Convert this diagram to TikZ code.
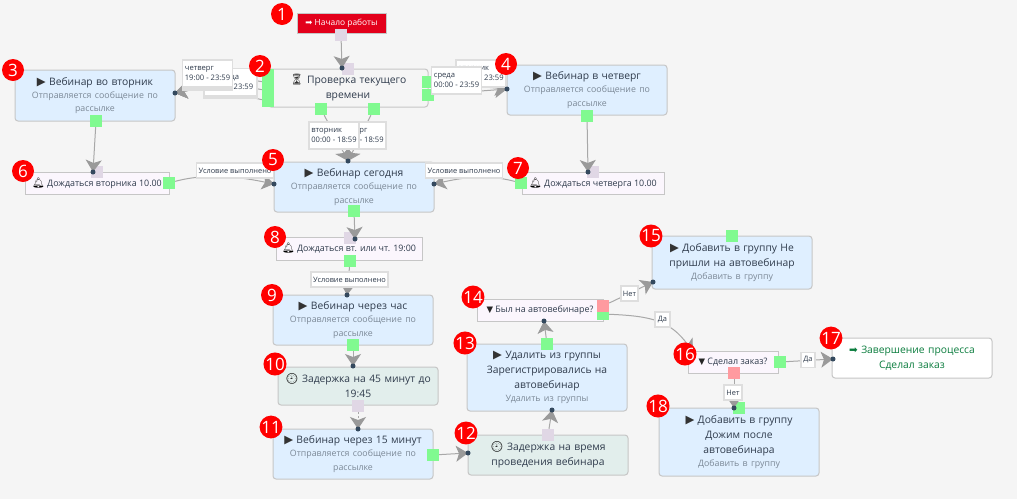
\documentclass[tikz,border=0pt]{standalone}
\usepackage{fontspec}
\setmainfont{Open Sans}
\newfontfamily\symfont{DejaVu Sans}
\newfontfamily\emofont{Noto Emoji}
\usetikzlibrary{arrows.meta, shadows}
\definecolor{bgcol}{HTML}{F5F5F5}
\definecolor{edgecol}{HTML}{C6C6C6}
\definecolor{webcol}{HTML}{DFEFFF}
\definecolor{waitcol}{HTML}{FBF6FD}
\definecolor{delaycol}{HTML}{E2EEEC}
\definecolor{startcol}{HTML}{E3001B}
\definecolor{portok}{HTML}{80FA90}
\definecolor{portno}{HTML}{FF9A9F}
\definecolor{portin}{HTML}{E0D7E5}
\definecolor{tipcol}{HTML}{9A9A9A}
\definecolor{dotcol}{HTML}{34495E}
\definecolor{inkcol}{HTML}{2F3B4C}
\definecolor{subcol}{HTML}{7B8896}
\definecolor{endcol}{HTML}{0B7D3E}
\newcommand{\ttlfont}{\fontsize{10.3}{15}\selectfont}
\newcommand{\subfont}{\fontsize{8.8}{13.3}\selectfont\color{subcol}}
\newcommand{\icoplay}{{\symfont\fontsize{11.5}{15}\selectfont\color{black!80}\char"25B6}}
\newcommand{\icosand}{{\emofont\fontsize{11}{15}\selectfont\color{black!80}\char"23F3}}
\newcommand{\icobell}{{\emofont\fontsize{10}{12}\selectfont\color{black}\char"1F514}}
\newcommand{\icoclock}{{\emofont\fontsize{10.5}{12}\selectfont\color{black}\char"1F558}}
\newcommand{\icofunnel}{{\symfont\fontsize{8.5}{12}\selectfont\color{black!85}\char"25BC}}
\newcommand{\icoenter}{{\symfont\char"27A1}}
\newcommand{\wtext}[2]{{\ttlfont #1\par}{\subfont #2\par}}
\tikzset{
    flowbox/.style={draw=edgecol, line width=1pt, rounded corners=3pt, minimum width=160pt, text width=154pt, inner sep=2pt, align=center, text=inkcol},
    webbox/.style={flowbox, fill=webcol},
    delaybox/.style={flowbox, fill=delaycol, font=\ttlfont},
    waitbox/.style={draw=edgecol, line width=1pt, fill=waitcol, sharp corners, minimum height=22pt, inner sep=1pt, text=inkcol, font=\fontsize{8.9}{12}\selectfont},
    portbox/.style={minimum size=12pt, inner sep=0pt},
    okport/.style={portbox, fill=portok},
    noport/.style={portbox, fill=portno},
    inport/.style={portbox, fill=portin},
    conn/.style={draw=edgecol!85!black, line width=1pt, -{Stealth[length=12pt, width=16pt, inset=3pt, color=tipcol]}},
    timelab/.style={draw=black!13, line width=1.2pt, fill=white, minimum width=50pt, minimum height=27pt, inner sep=2pt, align=left, text=inkcol, font=\fontsize{7.6}{10}\selectfont},
    condlab/.style={draw=black!13, line width=1.2pt, fill=white, inner sep=2pt, minimum height=15pt, text=inkcol, font=\fontsize{7.4}{9}\selectfont},
    badge/.style={circle, fill=red, text=white, minimum size=22pt, inner sep=0pt, font=\fontsize{17}{17}\selectfont}
}
\begin{document}
\begin{tikzpicture}[x=1pt, y=-1pt]
    % Page
    \fill[bgcol] (0,0) rectangle (1017,499);
    \useasboundingbox (0,0) rectangle (1017,499);

    % Steps
    \node[draw=edgecol, line width=1pt, fill=startcol, minimum width=89pt, minimum height=20pt, inner sep=0pt, text=white, font=\fontsize{8.4}{10}\selectfont] (start) at (341.5,23) {\icoenter\ Начало работы};
    \node[flowbox, fill=bgcol, minimum height=38pt, font=\ttlfont] (check) at (348,88) {\icosand\ Проверка текущего\\времени};
    \node[webbox, minimum height=51pt] (tue) at (95,95.5) {\wtext{\icoplay\ Вебинар во вторник}{Отправляется сообщение по\\рассылке}};
    \node[webbox, minimum height=50pt] (thu) at (587,90) {\wtext{\icoplay\ Вебинар в четверг}{Отправляется сообщение по\\рассылке}};
    \node[webbox, minimum height=50pt] (today) at (354,187) {\wtext{\icoplay\ Вебинар сегодня}{Отправляется сообщение по\\рассылке}};
    \node[waitbox, minimum width=144pt] (waittue) at (97,183) {\icobell\ Дождаться вторника 10.00};
    \node[waitbox, minimum width=142pt] (waitthu) at (593,183) {\icobell\ Дождаться четверга 10.00};
    \node[waitbox, minimum width=146pt, minimum height=23pt] (waitboth) at (349,248.5) {\icobell\ Дождаться вт. или чт. 19:00};
    \node[webbox, minimum height=50pt] (hour) at (353,320) {\wtext{\icoplay\ Вебинар через час}{Отправляется сообщение по\\рассылке}};
    \node[delaybox, minimum height=38pt] (delay) at (358,386) {\icoclock\ Задержка на 45 минут до\\19:45};
    \node[webbox, minimum height=50pt] (soon) at (353,454) {\wtext{\icoplay\ Вебинар через 15 минут}{Отправляется сообщение по\\рассылке}};
    \node[delaybox, minimum height=40pt] (during) at (548,455) {\icoclock\ Задержка на время\\проведения вебинара};
    \node[webbox, minimum height=67pt] (remove) at (547,377.5) {\wtext{\icoplay\ Удалить из группы\\Зарегистрировались на\\автовебинар}{Удалить из группы}};
    \node[waitbox, minimum width=126pt] (wasthere) at (540,310) {\icofunnel\ Был на автовебинаре?};
    \node[webbox, minimum height=53pt] (absent) at (732,262.5) {\wtext{\icoplay\ Добавить в группу Не\\пришли на автовебинар}{Добавить в группу}};
    \node[waitbox, minimum width=90pt] (order) at (733,362) {\icofunnel\ Сделал заказ?};
    \node[flowbox, fill=white, minimum height=40pt, text=endcol, font=\ttlfont] (finish) at (912,358) {\icoenter\ Завершение процесса\\Сделал заказ};
    \node[webbox, minimum height=68pt] (push) at (739,442) {\wtext{\icoplay\ Добавить в группу\\Дожим после\\автовебинара}{Добавить в группу}};

    % Ports
    \foreach \y in {75, 83, 91, 101}
        \node[okport] (pc\y) at (268,\y) {};
    \node[inport] (pstart) at (341,35) {};
    \node[inport] (pcheck) at (348,69) {};
    \node[okport] (pcr) at (428,82) {};
    \node[okport] (pcs) at (428,95) {};
    \node[okport] (pcb) at (321,109) {};
    \node[okport] (pcc) at (374,109) {};
    \node[okport] (ptue) at (96,121) {};
    \node[inport] (pwt) at (97,172) {};
    \node[okport] (pwto) at (169,183) {};
    \node[okport] (pthu) at (587,116) {};
    \node[inport] (pwh) at (593,172) {};
    \node[okport] (pwho) at (521,183) {};
    \node[okport] (ptod) at (354,211) {};
    \node[inport] (pwb) at (350,238) {};
    \node[okport] (pwbo) at (350,261) {};
    \node[okport] (phour) at (353,345) {};
    \node[inport] (pdel) at (358,406) {};
    \node[okport] (psoon) at (433,455) {};
    \node[inport] (pdur) at (548,435) {};
    \node[okport] (prem) at (547,344) {};
    \node[okport] (pwy) at (603,314) {};
    \node[noport] (pwn) at (603,306) {};
    \node[okport] (pabs) at (732,236) {};
    \node[okport] (poy) at (780,362) {};
    \node[noport] (pon) at (734,373) {};
    \node[okport] (ppush) at (739,408) {};

    % Ends of the connectors
    \coordinate (dcheck) at (342,68);
    \coordinate (dtue) at (175,93);
    \coordinate (dthu) at (507,89);
    \coordinate (dtop) at (348,161);
    \coordinate (dleft) at (274,184);
    \coordinate (dright) at (434,184);
    \coordinate (dwt) at (93,172);
    \coordinate (dwh) at (588,172);
    \coordinate (dwb) at (355,239);
    \coordinate (dhour) at (347,295);
    \coordinate (ddel) at (353,366);
    \coordinate (dsoon) at (358,429);
    \coordinate (ddur) at (468,453);
    \coordinate (drem) at (552,410);
    \coordinate (dwas) at (544,321);
    \coordinate (dabs) at (653,282);
    \coordinate (dord) at (693,352);
    \coordinate (dfin) at (833,359);
    \coordinate (dpush) at (734,408);

    % Connectors
    \draw[conn] (pstart) -- (dcheck);
    \foreach \y in {75, 83, 91, 101}
        \draw[conn] (pc\y) .. controls (240,\y-6) and (215,85) .. (dtue);
    \draw[conn] (pcr) -- (dthu);
    \draw[conn] (pcs) -- (dthu);
    \draw[conn] (pcb) -- (dtop);
    \draw[conn] (pcc) -- (dtop);
    \draw[conn] (ptue) -- (dwt);
    \draw[conn] (pthu) -- (dwh);
    \draw[conn] (pwto) .. controls (210,172) and (245,178) .. (dleft);
    \draw[conn] (pwho) .. controls (490,175) and (470,176) .. (dright);
    \draw[conn] (ptod) -- (dwb);
    \draw[conn] (pwbo) -- (dhour);
    \draw[conn] (phour) -- (ddel);
    \draw[conn, dash pattern=on 2pt off 2pt] (pdel) -- (dsoon);
    \draw[conn] (psoon) -- (ddur);
    \draw[conn] (pdur) -- (drem);
    \draw[conn] (prem) -- (dwas);
    \draw[conn] (pwn) -- (dabs);
    \draw[conn] (pwy) .. controls (650,316) and (670,320) .. (dord);
    \draw[conn] (poy) -- (dfin);
    \draw[conn] (pon) -- (dpush);

    % Labels on the connectors
    \node[timelab, double copy shadow={shadow xshift=0pt, shadow yshift=-1.5pt}, minimum width=53pt] (lfri) at (230.5,82) {пятница\\00:00 - 23:59};
    \node[timelab, double copy shadow={shadow xshift=0pt, shadow yshift=-1.5pt}] (lthulate) at (207.5,73.5) {четверг\\19:00 - 23:59};
    \node[timelab] (lthulate2) at (481,73.5) {вторник\\19:00 - 23:59};
    \node[timelab] (lwed) at (456.5,80.5) {среда\\00:00 - 23:59};
    \node[timelab] (lthu) at (361,135.5) {четверг\\00:00 - 18:59};
    \node[timelab] (ltue) at (334,135.5) {вторник\\00:00 - 18:59};
    \node[condlab, minimum width=76pt] (cond1) at (235,170.5) {Условие выполнено};
    \node[condlab, minimum width=76pt] (cond2) at (464,170.5) {Условие выполнено};
    \node[condlab, minimum width=75pt] (cond3) at (349.5,279.5) {Условие выполнено};
    \node[condlab, minimum width=17pt] (no1) at (629.5,293.5) {Нет};
    \node[condlab, minimum width=15pt] (yes1) at (662.5,319.5) {Да};
    \node[condlab, minimum width=14pt] (yes2) at (808,360) {Да};
    \node[condlab, minimum width=18pt] (no2) at (733,392.5) {Нет};

    % Dots
    \foreach \d in {dcheck, dtue, dthu, dtop, dleft, dright, dwt, dwh, dwb, dhour, ddel, dsoon, ddur, drem, dwas, dabs, dord, dfin, dpush}
        \fill[dotcol] (\d) circle (2.5);

    % Numbers
    \foreach \n/\x/\y in {1/282/14, 2/260/66, 3/13/70, 4/506/64, 5/273/160, 6/23/171, 7/518/168, 8/275/237, 9/272/295, 10/275/364, 11/271/427, 12/466/433, 13/465/343, 14/473/297, 15/651/236, 16/685/354, 17/831/338, 18/658/406}
        \node[badge] (num\n) at (\x,\y) {\n};
\end{tikzpicture}
\end{document}
